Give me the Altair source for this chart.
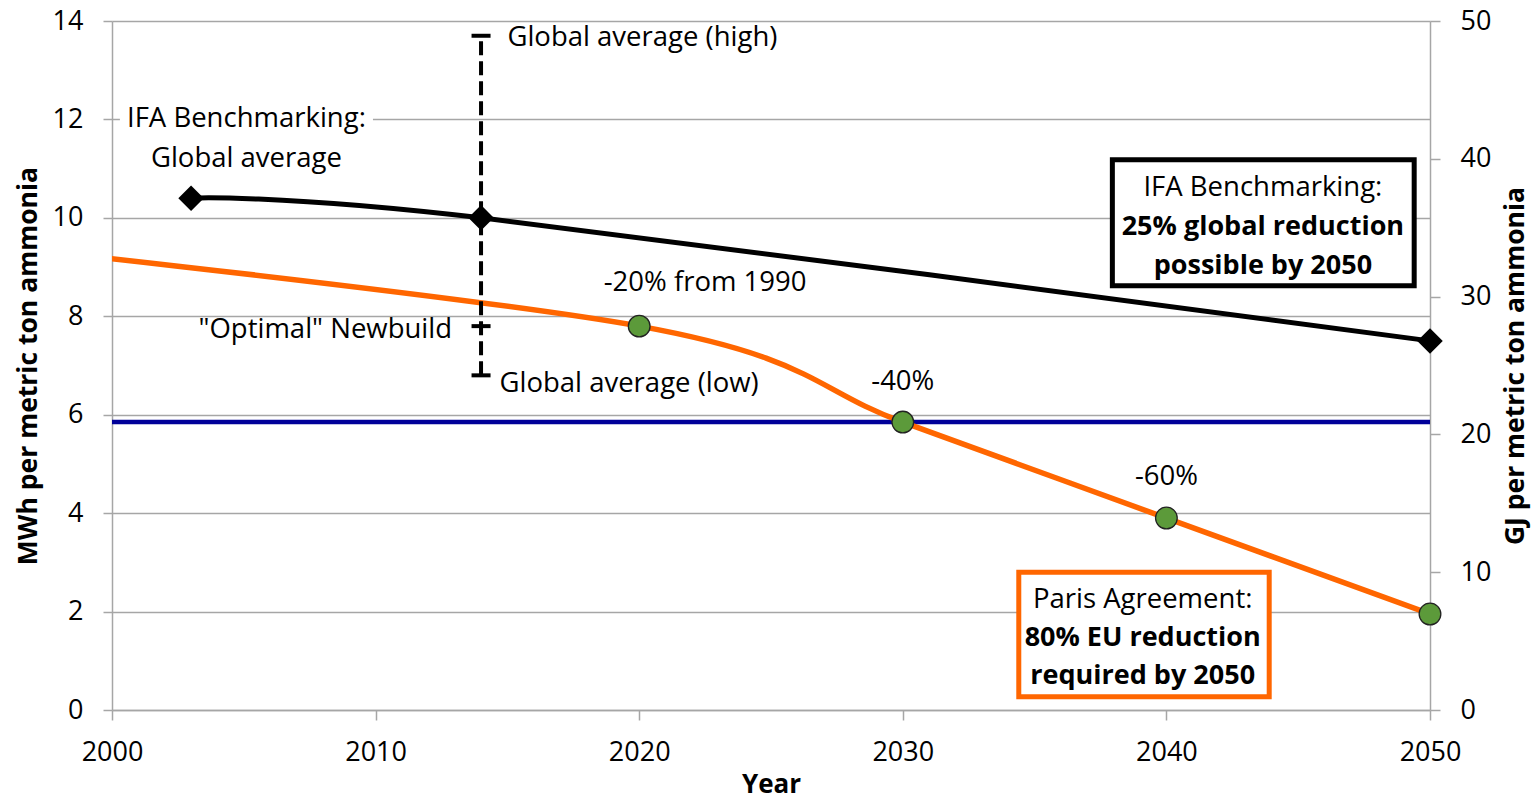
import altair as alt
import pandas as pd

FONT = "Open Sans"

# ---------------- data ----------------
ifa_years = [2003, 2014, 2050]
ifa_mwh = [10.4, 10.0, 7.5]

paris_years = [1990, 2020, 2030, 2040, 2050]
paris_mwh = [9.75, 7.8, 5.85, 3.9, 1.95]
paris_marker_years = [2020, 2030, 2040, 2050]
paris_marker_mwh = [7.8, 5.85, 3.9, 1.95]

threshold_years = [2000, 2050]
threshold_mwh = [5.85, 5.85]
MWH_TO_GJ = 3.6

err_year = 2014
err_low = 6.8
err_optimal = 7.8
err_high = 13.7

# annotation texts and their anchor (year, MWh)
left_texts = ["Global average (high)", "Global average (low)"]
left_text_year = [2015.0, 2014.7]
left_text_mwh = [13.65, 6.63]

right_texts = ['"Optimal" Newbuild']
right_text_year = [2012.9]
right_text_mwh = [7.73]

center_texts = ["IFA Benchmarking:", "Global average", "-20% from 1990", "-40%", "-60%",
                "IFA Benchmarking:", "Paris Agreement:"]
center_text_year = [2005.1, 2005.1, 2022.5, 2030.0, 2040.0, 2043.66, 2039.1]
center_text_mwh = [12.0, 11.2, 8.68, 6.67, 4.73, 10.6, 2.24]

bold_texts = ["25% global reduction", "possible by 2050", "80% EU reduction", "required by 2050"]
bold_text_year = [2043.66, 2043.66, 2039.1, 2039.1]
bold_text_mwh = [9.81, 9.02, 1.47, 0.70]

# annotation boxes
box_year1 = [2037.95, 2034.4]
box_year2 = [2049.4, 2043.9]
box_mwh1 = [8.62, 0.27]
box_mwh2 = [11.18, 2.8]
box_color = ["#000000", "#FF6600"]

label_bg_year = [2000.3, 2009.9]
label_bg_mwh = [11.0, 12.4]

# ---------------- frames ----------------
ifa = pd.DataFrame({"year": ifa_years, "mwh": ifa_mwh})
paris = pd.DataFrame({"year": paris_years, "mwh": paris_mwh})
paris_pts = pd.DataFrame({"year": paris_marker_years, "mwh": paris_marker_mwh})
thr = pd.DataFrame({"year": threshold_years, "mwh": threshold_mwh})
thr_gj = pd.DataFrame({"year": threshold_years, "gj": [v * MWH_TO_GJ for v in threshold_mwh]})
err_rule = pd.DataFrame({"year": [err_year], "mwh": [err_low], "mwh2": [err_high]})
err_caps = pd.DataFrame({"year": [err_year] * 3, "mwh": [err_low, err_optimal, err_high]})
lt = pd.DataFrame({"year": left_text_year, "mwh": left_text_mwh, "t": left_texts})
rt = pd.DataFrame({"year": right_text_year, "mwh": right_text_mwh, "t": right_texts})
ct = pd.DataFrame({"year": center_text_year, "mwh": center_text_mwh, "t": center_texts})
bt = pd.DataFrame({"year": bold_text_year, "mwh": bold_text_mwh, "t": bold_texts})
boxes = pd.DataFrame({"year": box_year1, "year2": box_year2, "mwh": box_mwh1,
                      "mwh2": box_mwh2, "c": box_color})
lbg = pd.DataFrame({"year": [label_bg_year[0]], "year2": [label_bg_year[1]],
                    "mwh": [label_bg_mwh[0]], "mwh2": [label_bg_mwh[1]]})

GRID = "#A6A6A6"

X = alt.X("year:Q",
          scale=alt.Scale(domain=[2000, 2050], nice=False, zero=False),
          axis=alt.Axis(values=[2000, 2010, 2020, 2030, 2040, 2050], format="d",
                        grid=False, domainColor=GRID, domainWidth=1.5,
                        tickColor=GRID, tickWidth=1.5, tickSize=10,
                        labelFont=FONT, labelFontSize=27, labelColor="black",
                        labelPadding=19, labelFlush=False,
                        title="Year", titleFont=FONT, titleFontSize=26,
                        titleFontWeight="bold", titleColor="black", titlePadding=6))

Y = alt.Y("mwh:Q",
          scale=alt.Scale(domain=[0, 14], nice=False),
          axis=alt.Axis(values=[0, 2, 4, 6, 8, 10, 12, 14],
                        grid=True, gridColor=GRID, gridWidth=1.5,
                        domainColor=GRID, domainWidth=1.5,
                        tickColor=GRID, tickWidth=1.5, tickSize=9,
                        labelFont=FONT, labelFontSize=27, labelColor="black",
                        labelPadding=20, labelFlush=False,
                        title="MWh per metric ton ammonia", titleFont=FONT,
                        titleFontSize=26.5, titleFontWeight="bold", titleColor="black",
                        titlePadding=10))

label_bg = alt.Chart(lbg).mark_rect(fill="white").encode(
    x=X, x2="year2:Q", y=Y, y2="mwh2:Q")

blue = alt.Chart(thr).mark_line(color="#000099", strokeWidth=4.5).encode(x=X, y=Y)

orange = alt.Chart(paris).mark_line(color="#FF6600", strokeWidth=5.5,
                                    interpolate="cardinal", clip=True).encode(x=X, y=Y)

black = alt.Chart(ifa).mark_line(color="black", strokeWidth=5,
                                 interpolate="cardinal").encode(x=X, y=Y)

dash = alt.Chart(err_rule).mark_rule(color="black", strokeWidth=4,
                                     strokeDash=[14, 6]).encode(x=X, y=Y, y2="mwh2:Q")

caps = alt.Chart(err_caps).mark_tick(orient="horizontal", color="black", opacity=1,
                                     size=19, thickness=4).encode(x=X, y=Y)

diamonds = alt.Chart(ifa).mark_point(shape="diamond", filled=True, color="black",
                                     size=650, opacity=1).encode(x=X, y=Y)

greens = alt.Chart(paris_pts).mark_point(shape="circle", filled=True, fill="#5C9A3A",
                                         stroke="#222222", strokeWidth=1.3,
                                         size=470, opacity=1).encode(x=X, y=Y)

box_rects = alt.Chart(boxes).mark_rect(fill="white", strokeWidth=5).encode(
    x=X, x2="year2:Q", y=Y, y2="mwh2:Q",
    stroke=alt.Color("c:N", scale=None))

txt_left = alt.Chart(lt).mark_text(font=FONT, fontSize=27.5, align="left",
                                   baseline="middle", color="black").encode(x=X, y=Y, text="t:N")
txt_right = alt.Chart(rt).mark_text(font=FONT, fontSize=27.5, align="right",
                                    baseline="middle", color="black").encode(x=X, y=Y, text="t:N")
txt_center = alt.Chart(ct).mark_text(font=FONT, fontSize=27.5, align="center",
                                     baseline="middle", color="black").encode(x=X, y=Y, text="t:N")
txt_bold = alt.Chart(bt).mark_text(font=FONT, fontSize=27, align="center", fontWeight="bold",
                                   baseline="middle", color="black").encode(x=X, y=Y, text="t:N")

left = alt.layer(label_bg, blue, orange, black, dash, caps, diamonds, greens,
                 box_rects, txt_left, txt_right, txt_center, txt_bold)

right = alt.Chart(thr_gj).mark_line(opacity=0).encode(
    x=X,
    y=alt.Y("gj:Q", scale=alt.Scale(domain=[0, 50], nice=False),
            axis=alt.Axis(orient="right", values=[0, 10, 20, 30, 40, 50], grid=False,
                          domainColor=GRID, domainWidth=1.5,
                          tickColor=GRID, tickWidth=1.5, tickSize=10,
                          labelFont=FONT, labelFontSize=27, labelColor="black",
                          labelPadding=20, labelFlush=False,
                          title="GJ per metric ton ammonia", titleFont=FONT,
                          titleFontSize=26.5, titleFontWeight="bold", titleColor="black",
                          titleAngle=270, titleBaseline="top", titlePadding=12)))

chart = alt.layer(left, right).resolve_scale(y="independent").properties(
    width=1318, height=689,
    autosize=alt.AutoSizeParams(type="none"),
    padding={"left": 104, "top": 13, "right": 101, "bottom": 92},
    background="white",
).configure_view(stroke=None)

chart.save("out.html", embed_options={"renderer": "svg", "actions": False})
